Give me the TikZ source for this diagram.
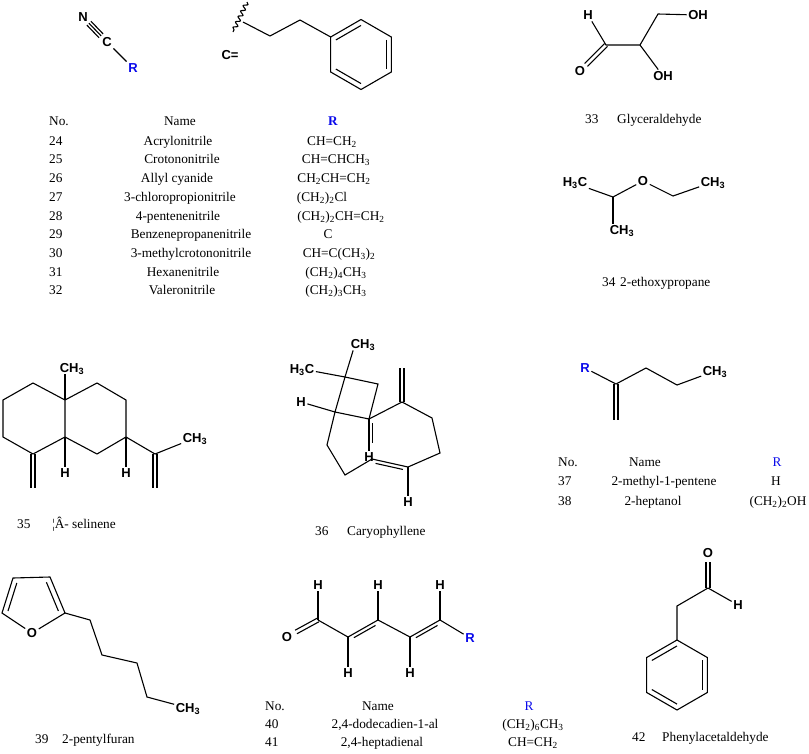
\documentclass[tikz,border=0pt]{standalone}
\usepackage{fontspec}
\setmainfont{Liberation Serif}
\setsansfont{Liberation Sans}
\usetikzlibrary{calc,decorations.pathmorphing}
\definecolor{rblue}{RGB}{10,10,235}

\begin{document}
\begin{tikzpicture}[x=1pt,y=-1pt,
% Atom label styles
 atom/.style={font=\sffamily\bfseries\fontsize{13}{15}\selectfont, inner sep=1.5pt,
 text height=9.4pt, text depth=0pt},
 rgroup/.style={atom, text=rblue},
% Table and caption styles
 tabtext/.style={font=\fontsize{13.3}{15}\selectfont, inner sep=0pt,
 text height=9pt, text depth=3pt},
 tabr/.style={tabtext, text=rblue},
% Bond styles
 bond/.style={draw, line width=1.1pt},
 wavy/.style={bond, decorate, decoration={snake, amplitude=2pt, segment length=6pt}}
]
\fill[white] (0,0) rectangle (809,753);
\useasboundingbox (0,0) rectangle (809,753);

% nitriles 24-32
\node[atom] (n24) at (83,17) {N};
\node[atom] (c24) at (107,42) {C};
\node[rgroup] (r24) at (133,68) {R};
\foreach \s in {-2.8,0,2.8}
 \draw[bond, shorten <=8.5pt, shorten >=8.5pt] ($(n24)!\s pt!90:(c24)$) -- ($(c24)!\s pt!-90:(n24)$);
\draw[bond] (c24) -- (r24);

\node[atom] (ceq) at (230,55) {C=};
\coordinate (wv1) at (247,2);
\coordinate (wv2) at (233,32);
\draw[wavy] (wv1) -- (wv2);
\coordinate (ch1) at (243,22);
\coordinate (ch2) at (270,36);
\coordinate (ch3) at (300,20);
\coordinate (bzc) at (361,54.5);
\foreach \i/\a in {1/-150,2/-90,3/-30,4/30,5/90,6/150}
 \coordinate (bz\i) at ($(bzc)+(\a:35)$);
\draw[bond] (ch1) -- (ch2) -- (ch3) -- (bz1);
\draw[bond] (bz1) -- (bz2) -- (bz3) -- (bz4) -- (bz5) -- (bz6) -- cycle;
\foreach \i/\j in {1/2,3/4,5/6}
 \draw[bond] ($(bzc)!0.83!(bz\i)$) -- ($(bzc)!0.83!(bz\j)$);

\node[tabtext, anchor=west] (no1) at (49,122) {No.};
\node[tabtext] (nm1) at (180,122) {Name};
\node[tabr, font=\bfseries\fontsize{13.3}{15}\selectfont] (rr1) at (333,122) {R};
\foreach \n/\y/\nx/\name/\rx/\r in {
 24/142/178/Acrylonitrile/332/CH=CH\textsubscript{2},
 25/160/182/Crotononitrile/336/CH=CHCH\textsubscript{3},
 26/179/177/Allyl cyanide/334/CH\textsubscript{2}CH=CH\textsubscript{2},
 27/198/180/3-chloropropionitrile/322/(CH\textsubscript{2})\textsubscript{2}Cl,
 28/217/178/4-pentenenitrile/341/(CH\textsubscript{2})\textsubscript{2}CH=CH\textsubscript{2},
 29/235/191/Benzenepropanenitrile/328/C,
 30/254/191/3-methylcrotononitrile/339/CH=C(CH\textsubscript{3})\textsubscript{2},
 31/273/183/Hexanenitrile/336/(CH\textsubscript{2})\textsubscript{4}CH\textsubscript{3},
 32/291/182/Valeronitrile/336/(CH\textsubscript{2})\textsubscript{3}CH\textsubscript{3}}{
 \node[tabtext, anchor=west] (no\n) at (49,\y) {\n};
 \node[tabtext] (nm\n) at (\nx,\y) {\name};
 \node[tabtext] (rv\n) at (\rx,\y) {\r};
}

% glyceraldehyde 33
\node[atom] (h33) at (588,15) {H};
\node[atom] (o33) at (580,71) {O};
\node[atom] (oh33a) at (698,15) {OH};
\node[atom] (oh33b) at (663,76) {OH};
\coordinate (c33a) at (606,45);
\coordinate (c33b) at (640,45);
\coordinate (c33c) at (658,14);
\coordinate (o33e) at (586,65);
\draw[bond] (h33) -- (c33a) -- (c33b) -- (c33c) -- (oh33a);
\draw[bond] (c33b) -- (oh33b);
\draw[bond] ($(c33a)!2pt!90:(o33e)$) -- ($(o33e)!2pt!-90:(c33a)$);
\draw[bond] ($(c33a)!2pt!-90:(o33e)$) -- ($(o33e)!2pt!90:(c33a)$);
\node[tabtext, anchor=west] (no33) at (585,120) {33};
\node[tabtext, anchor=west] (nm33) at (617,120) {Glyceraldehyde};

% 2-ethoxypropane 34
\node[atom] (h3c34) at (575,182) {H\textsubscript{3}C};
\node[atom] (o34) at (643,181) {O};
\node[atom] (ch34a) at (622,230) {CH\textsubscript{3}};
\node[atom] (ch34b) at (713,182) {CH\textsubscript{3}};
\coordinate (c34a) at (613,197);
\coordinate (c34b) at (673,196);
\draw[bond] (h3c34.south east) -- (c34a) -- (o34) -- (c34b) -- (ch34b);
\draw[bond] (c34a) -- (c34a |- ch34a.north);
\node[tabtext, anchor=west] (no34) at (602,283) {34};
\node[tabtext, anchor=west] (nm34) at (620,283) {2-ethoxypropane};

% selinene 35
\coordinate (s1) at (65,400);
\coordinate (s2) at (33,383);
\coordinate (s3) at (3,400);
\coordinate (s4) at (3,437);
\coordinate (s5) at (33,454);
\coordinate (s6) at (65,437);
\coordinate (s7) at (97,383);
\coordinate (s8) at (126,400);
\coordinate (s9) at (126,437);
\coordinate (s10) at (97,454);
\coordinate (ip) at (155,454);
\coordinate (m1) at (33,488);
\coordinate (m2) at (155,488);
\node[atom] (ch35a) at (72,368) {CH\textsubscript{3}};
\node[atom] (h35a) at (65,473) {H};
\node[atom] (h35b) at (126,473) {H};
\node[atom] (ch35b) at (195,438) {CH\textsubscript{3}};
\draw[bond] (s1) -- (s2) -- (s3) -- (s4) -- (s5) -- (s6) -- cycle;
\draw[bond] (s1) -- (s7) -- (s8) -- (s9) -- (s10) -- (s6);
\draw[bond] (s1) -- (s1 |- ch35a.south);
\draw[bond] (s6) -- (h35a);
\draw[bond] (s9) -- (h35b);
\draw[bond] (s9) -- (ip) -- (ch35b);
\draw[bond] ([xshift=-2pt]s5) -- ([xshift=-2pt]m1);
\draw[bond] ([xshift=2pt]s5) -- ([xshift=2pt]m1);
\draw[bond] ([xshift=-2pt]ip) -- ([xshift=-2pt]m2);
\draw[bond] ([xshift=2pt]ip) -- ([xshift=2pt]m2);
\node[tabtext, anchor=west] (no35) at (17,525) {35};
\node[tabtext, anchor=west] (nm35) at (52,525) {¦Â- selinene};

% caryophyllene 36
\coordinate (cb1) at (345,377);
\coordinate (cb2) at (378,384);
\coordinate (cb3) at (369,419);
\coordinate (cb4) at (335,412);
\coordinate (r1) at (327,445);
\coordinate (r2) at (345,475);
\coordinate (r3) at (372,459);
\coordinate (r4) at (408,467);
\coordinate (r5) at (440,453);
\coordinate (r6) at (432,418);
\coordinate (r7) at (402,402);
\coordinate (m3) at (402,368);
\node[atom] (ch36a) at (363,344) {CH\textsubscript{3}};
\node[atom] (h3c36) at (302,369) {H\textsubscript{3}C};
\node[atom] (h36a) at (301,402) {H};
\node[atom] (h36b) at (369,457) {H};
\node[atom] (h36c) at (408,502) {H};
\draw[bond] (cb1) -- (cb2) -- (cb3) -- (cb4) -- cycle;
\draw[bond] (cb1) -- ([xshift=4pt]ch36a.south west);
\draw[bond] (h3c36) -- (cb1);
\draw[bond] (h36a) -- (cb4);
\draw[bond] (cb4) -- (r1) -- (r2) -- (r3) -- (r4) -- (r5) -- (r6) -- (r7) -- (cb3);
\draw[bond] ($(r3)!0.12!(r4)!3.5pt!-90:(r4)$) -- ($(r4)!0.12!(r3)!3.5pt!90:(r3)$);
\draw[bond] ([xshift=-2pt]r7) -- ([xshift=-2pt]m3);
\draw[bond] ([xshift=2pt]r7) -- ([xshift=2pt]m3);
\draw[bond] (r4) -- (h36c);
\draw[bond] (cb3) -- (h36b);
\draw[bond] ($(cb3)+(3.2,4)$) -- ($(cb3)+(3.2,24)$);
\node[tabtext, anchor=west] (no36) at (315,532) {36};
\node[tabtext, anchor=west] (nm36) at (347,532) {Caryophyllene};

% alkenes 37-38
\node[rgroup] (r37) at (585,368) {R};
\node[atom] (ch37) at (715,371) {CH\textsubscript{3}};
\coordinate (e1) at (616,384);
\coordinate (e2) at (646,368);
\coordinate (e3) at (677,385);
\coordinate (e4) at (616,420);
\draw[bond] (r37) -- (e1) -- (e2) -- (e3) -- (ch37);
\draw[bond] ([xshift=-2pt]e1) -- ([xshift=-2pt]e4);
\draw[bond] ([xshift=2pt]e1) -- ([xshift=2pt]e4);
\node[tabtext, anchor=west] (no2) at (558,463) {No.};
\node[tabtext] (nm2) at (645,463) {Name};
\node[tabr] (rr2) at (777,463) {R};
\foreach \n/\y/\nx/\name/\rx/\r in {
 37/482/664/2-methyl-1-pentene/776/H,
 38/502/653/2-heptanol/778/(CH\textsubscript{2})\textsubscript{2}OH}{
 \node[tabtext, anchor=west] (no\n) at (558,\y) {\n};
 \node[tabtext] (nm\n) at (\nx,\y) {\name};
 \node[tabtext] (rv\n) at (\rx,\y) {\r};
}

% 2-pentylfuran 39
\node[atom] (o39) at (32,633) {O};
\coordinate (f2) at (65,613);
\coordinate (f3) at (50,577);
\coordinate (f4) at (13,578);
\coordinate (f5) at (2,613);
\coordinate (fc) at (32,603);
\coordinate (a1) at (90,620);
\coordinate (a2) at (102,655);
\coordinate (a3) at (137,663);
\coordinate (a4) at (147,697);
\node[atom] (ch39) at (188,708) {CH\textsubscript{3}};
\draw[bond] (o39) -- (f2) -- (f3) -- (f4) -- (f5) -- (o39);
\draw[bond] ($(fc)!0.8!(f2)$) -- ($(fc)!0.8!(f3)$);
\draw[bond] ($(fc)!0.8!(f4)$) -- ($(fc)!0.8!(f5)$);
\draw[bond] (f2) -- (a1) -- (a2) -- (a3) -- (a4) -- (ch39);
\node[tabtext, anchor=west] (no39) at (35,740) {39};
\node[tabtext, anchor=west] (nm39) at (62,740) {2-pentylfuran};

% dienals 40-41
\node[atom] (o40) at (287,637) {O};
\node[rgroup] (r40) at (470,638) {R};
\coordinate (d1) at (318,620);
\coordinate (d2) at (348,637);
\coordinate (d3) at (378,620);
\coordinate (d4) at (410,637);
\coordinate (d5) at (440,620);
\coordinate (o40e) at (296,632);
\node[atom] (hd1) at (318,585) {H};
\node[atom] (hd2) at (348,673) {H};
\node[atom] (hd3) at (378,585) {H};
\node[atom] (hd4) at (410,673) {H};
\node[atom] (hd5) at (440,585) {H};
\draw[bond] (d1) -- (d2) -- (d3) -- (d4) -- (d5) -- (r40);
\foreach \c in {1,...,5}
 \draw[bond] (d\c) -- (hd\c);
\draw[bond] ($(d1)!2pt!90:(o40e)$) -- ($(o40e)!2pt!-90:(d1)$);
\draw[bond] ($(d1)!2pt!-90:(o40e)$) -- ($(o40e)!2pt!90:(d1)$);
\draw[bond] ($(d2)!0.14!(d3)!3.5pt!-90:(d3)$) -- ($(d3)!0.14!(d2)!3.5pt!90:(d2)$);
\draw[bond] ($(d4)!0.14!(d5)!3.5pt!-90:(d5)$) -- ($(d5)!0.14!(d4)!3.5pt!90:(d4)$);
\node[tabtext, anchor=west] (no3) at (265,707) {No.};
\node[tabtext] (nm3) at (378,707) {Name};
\node[tabr] (rr3) at (529,707) {R};
\foreach \n/\y/\nx/\name/\rx/\r in {
 40/725/385/{2,4-dodecadien-1-al}/533/(CH\textsubscript{2})\textsubscript{6}CH\textsubscript{3},
 41/743/382/{2,4-heptadienal}/533/CH=CH\textsubscript{2}}{
 \node[tabtext, anchor=west] (no\n) at (265,\y) {\n};
 \node[tabtext] (nm\n) at (\nx,\y) {\name};
 \node[tabtext] (rv\n) at (\rx,\y) {\r};
}

% phenylacetaldehyde 42
\node[atom] (o42) at (708,553) {O};
\node[atom] (h42) at (738,605) {H};
\coordinate (k1) at (708,588);
\coordinate (k2) at (677,606);
\coordinate (o42e) at (708,562);
\coordinate (pzc) at (677,675);
\foreach \i/\a in {1/-150,2/-90,3/-30,4/30,5/90,6/150}
 \coordinate (pz\i) at ($(pzc)+(\a:35)$);
\draw[bond] ([xshift=-2pt]k1) -- ([xshift=-2pt]o42e);
\draw[bond] ([xshift=2pt]k1) -- ([xshift=2pt]o42e);
\draw[bond] (k1) -- (h42);
\draw[bond] (k1) -- (k2) -- (pz2);
\draw[bond] (pz1) -- (pz2) -- (pz3) -- (pz4) -- (pz5) -- (pz6) -- cycle;
\foreach \i/\j in {1/2,3/4,5/6}
 \draw[bond] ($(pzc)!0.83!(pz\i)$) -- ($(pzc)!0.83!(pz\j)$);
\node[tabtext, anchor=west] (no42) at (632,738) {42};
\node[tabtext, anchor=west] (nm42) at (662,738) {Phenylacetaldehyde};

\end{tikzpicture}
\end{document}
